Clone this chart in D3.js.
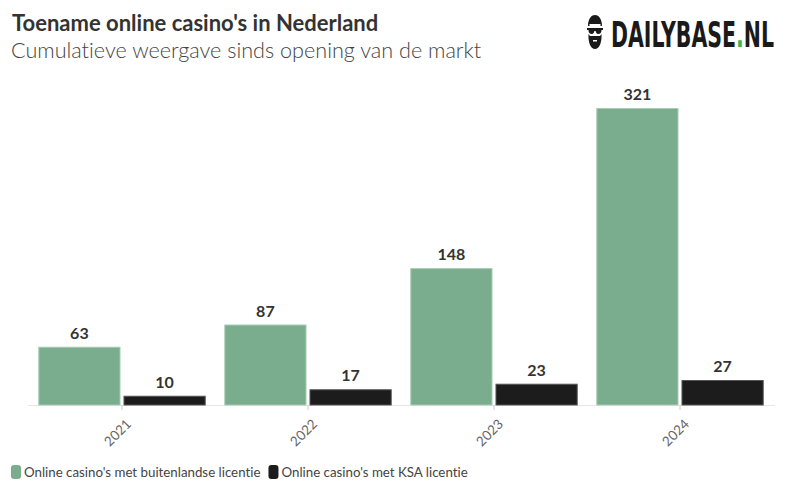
<!DOCTYPE html>
<html>
<head>
<meta charset="utf-8">
<script src="https://cdn.jsdelivr.net/npm/d3@7"></script>
<style>
  body { margin: 0; background: #fff; }
  text { font-family: Lato, "Open Sans", sans-serif; font-variant-ligatures: none; }
</style>
</head>
<body>
<div id="chart"></div>
<script>
// data
const years = ["2021", "2022", "2023", "2024"];
const seriesNames = ["Online casino's met buitenlandse licentie", "Online casino's met KSA licentie"];
const foreign = [63, 87, 148, 321];
const ksa = [10, 17, 23, 27];
const colors = ["#7aad8e", "#1c1c1c"];
const strokes = ["#a9cbb5", "#555"];

const svgWidth = 796, svgHeight = 491;

const svg = d3.select('#chart').append('svg')
  .attr('width', svgWidth)
  .attr('height', svgHeight);

// title + subtitle
svg.append("text")
  .attr("x", 12).attr("y", 31)
  .style("font-size", "22px").style("font-weight", "bold")
  .style("fill", "#333")
  .text("Toename online casino's in Nederland");

svg.append("text")
  .attr("x", 11).attr("y", 58)
  .style("font-size", "21.6px").style("font-weight", "300")
  .style("fill", "#444")
  .text("Cumulatieve weergave sinds opening van de markt");

// logo icon (bearded head with sunglasses)
const logo = svg.append("g").attr("transform", "translate(587,15)");
logo.append("path")   // hair
  .attr("d", "M1,11 C1,3 5,0 8,0 C11,0 15,3 15,11 L13.5,11 L13.5,9 L2.5,9 L2.5,11 Z")
  .style("fill", "#1a1a1a");
logo.append("path")   // sunglasses
  .attr("d", "M0,13 L16,13 L16,15 L14.5,15 C14.5,18 13,19 11,19 C9.5,19 9,17 8.6,16 L7.4,16 C7,17 6.5,19 5,19 C3,19 1.5,18 1.5,15 L0,15 Z")
  .style("fill", "#1a1a1a");
logo.append("path")   // beard
  .attr("d", "M1.5,19 L3,21 L13,21 L14.5,19 C15,28 12,34 8,34 C4,34 1,28 1.5,19 Z M6,25 L10,25 L10,26.5 L6,26.5 Z")
  .attr("fill-rule", "evenodd")
  .style("fill", "#1a1a1a");

// logo wordmark, squeezed to the width of the original
const logoText = svg.append("text")
  .style("font-family", "'Liberation Sans Narrow', 'DejaVu Sans Condensed', sans-serif")
  .style("font-size", "35px").style("font-weight", "bold")
  .style("fill", "#1a1a1a");
logoText.append("tspan").text("DAILYBASE");
logoText.append("tspan").style("fill", "#3cb54a").text(".");
logoText.append("tspan").text("NL");
const logoW = logoText.node().getComputedTextLength();
logoText.attr("transform", "translate(611,47) scale(" + (163 / logoW) + ",1)");

// scales
const x0 = d3.scaleBand().domain(years).range([29, 773]).paddingInner(0.1).paddingOuter(0.05);
const x1 = d3.scaleBand().domain([0, 1]).range([0, x0.bandwidth()]).paddingInner(0.035);
const y = d3.scaleLinear().domain([0, d3.max(foreign)]).range([405, 108]);

// baseline
svg.append("line")
  .attr("x1", 28).attr("x2", 775)
  .attr("y1", 405.5).attr("y2", 405.5)
  .style("stroke", "#e6e6e6");

// bars
const groups = svg.selectAll(".year")
  .data(years)
  .enter().append("g")
    .attr("class", "year")
    .attr("transform", d => "translate(" + x0(d) + ",0)");

const values = [foreign, ksa];
groups.selectAll("rect")
  .data((d, i) => [0, 1].map(s => ({s: s, v: values[s][i]})))
  .enter().append("rect")
    .attr("x", d => x1(d.s) + 0.5)
    .attr("y", d => y(d.v) + 0.5)
    .attr("width", x1.bandwidth() - 1)
    .attr("height", d => y(0) - y(d.v) - 0.5)
    .style("fill", d => colors[d.s])
    .style("stroke", d => strokes[d.s])
    .style("stroke-width", 1);

groups.selectAll(".val")
  .data((d, i) => [0, 1].map(s => ({s: s, v: values[s][i]})))
  .enter().append("text")
    .attr("class", "val")
    .attr("x", d => x1(d.s) + x1.bandwidth() / 2)
    .attr("y", d => y(d.v) - 8)
    .attr("text-anchor", "middle")
    .style("font-size", "16px").style("font-weight", "bold")
    .style("fill", "#333")
    .text(d => d.v);

// x axis ticks + labels
const axis = svg.append("g").attr("transform", "translate(0,405)")
  .call(d3.axisBottom(x0).tickSize(5).tickSizeOuter(0));
axis.select(".domain").remove();
axis.selectAll(".tick line").style("stroke", "#ccc");
axis.selectAll(".tick text")
  .attr("x", 0).attr("y", 0).attr("dy", 0)
  .attr("transform", "translate(10,20) rotate(-45)")
  .attr("text-anchor", "end")
  .style("font-family", "Lato, sans-serif")
  .style("font-size", "13.5px")
  .style("fill", "#666");

// legend
const legend = svg.append("g").attr("transform", "translate(11,465)");
let lx = 0;
seriesNames.forEach((name, i) => {
  const item = legend.append("g").attr("transform", "translate(" + lx + ",0)");
  item.append("rect")
    .attr("width", 10).attr("height", 14).attr("rx", 3)
    .style("fill", colors[i]);
  const t = item.append("text")
    .attr("x", 13).attr("y", 11.5)
    .style("font-size", "13.3px")
    .style("fill", "#444")
    .text(name);
  lx += 13 + t.node().getComputedTextLength() + 8;
});
</script>
</body>
</html>
